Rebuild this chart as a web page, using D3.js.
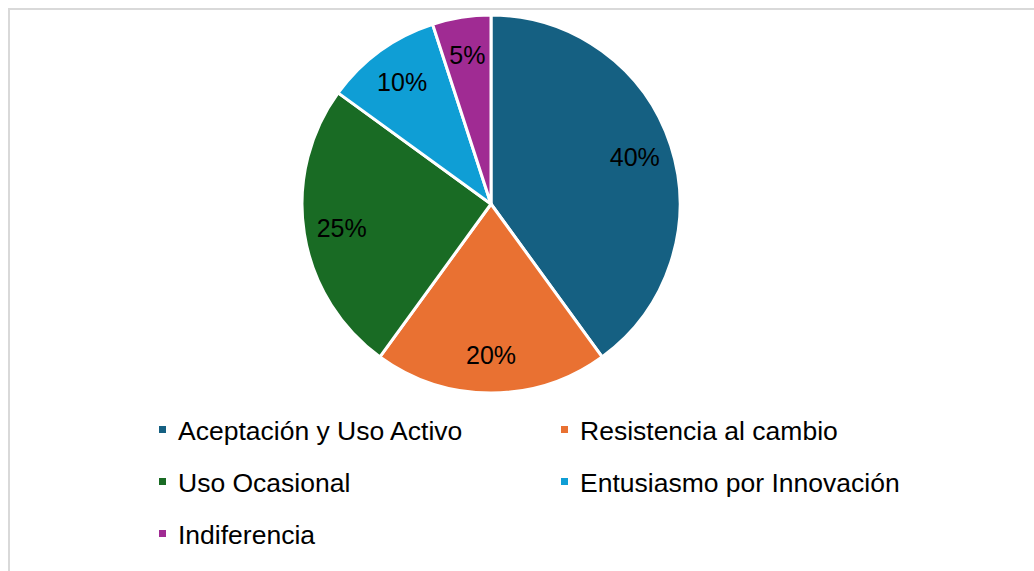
<!DOCTYPE html>
<html>
<head>
<meta charset="utf-8">
<script src="https://cdn.jsdelivr.net/npm/d3@7"></script>
<style>
  body { margin: 0; background: #fff; }
  svg { display: block; font-family: "Liberation Sans", Arial, sans-serif; }
</style>
</head>
<body>
<svg id="chart" width="1034" height="571"></svg>
<script>
// datos del gráfico
const categories = ["Aceptación y Uso Activo", "Resistencia al cambio", "Uso Ocasional", "Entusiasmo por Innovación", "Indiferencia"];
const values = [40, 20, 25, 10, 5];
const colors = ["#156082", "#E97132", "#196B24", "#0F9ED5", "#A02B93"];

const svg = d3.select("#chart");

// marco del área del gráfico
svg.append("rect")
  .attr("x", 9)
  .attr("y", 9)
  .attr("width", 1040)
  .attr("height", 600)
  .attr("fill", "none")
  .attr("stroke", "#d9d9d9")
  .attr("stroke-width", 2);

const cx = 491, cy = 204, r = 189;

const data = categories.map((c, i) => ({ name: c, value: values[i], color: colors[i] }));

const pie = d3.pie().sort(null).value((d) => d.value);
const arc = d3.arc().innerRadius(0).outerRadius(r);
// posición de las etiquetas
const labelArc = d3.arc().innerRadius(r * 0.8).outerRadius(r * 0.8);

const g = svg.append("g").attr("transform", `translate(${cx}, ${cy})`);

const arcs = pie(data);

g.selectAll("path")
  .data(arcs)
  .join("path")
  .attr("d", arc)
  .attr("fill", (d) => d.data.color)
  .attr("stroke", "#fff")
  .attr("stroke-width", 3)
  .attr("stroke-linejoin", "round");

g.selectAll("text")
  .data(arcs)
  .join("text")
  .attr("transform", (d) => `translate(${labelArc.centroid(d)})`)
  .attr("text-anchor", "middle")
  .attr("dominant-baseline", "central")
  .attr("font-size", 25)
  .attr("fill", "#000")
  .text((d) => d.data.value + "%");

// leyenda
const legendX = [159, 561];
const legendY = [430, 482, 534];

const legend = svg.selectAll(".legend-item")
  .data(data)
  .join("g")
  .attr("class", "legend-item")
  .attr("transform", (d, i) => `translate(${legendX[i % 2]}, ${legendY[Math.floor(i / 2)]})`);

legend.append("rect")
  .attr("x", 0)
  .attr("y", -4)
  .attr("width", 7)
  .attr("height", 7)
  .attr("fill", (d) => d.color);

legend.append("text")
  .attr("x", 19)
  .attr("y", 1)
  .attr("dominant-baseline", "central")
  .attr("font-size", 26.5)
  .attr("fill", "#000")
  .text((d) => d.name);
</script>
</body>
</html>
